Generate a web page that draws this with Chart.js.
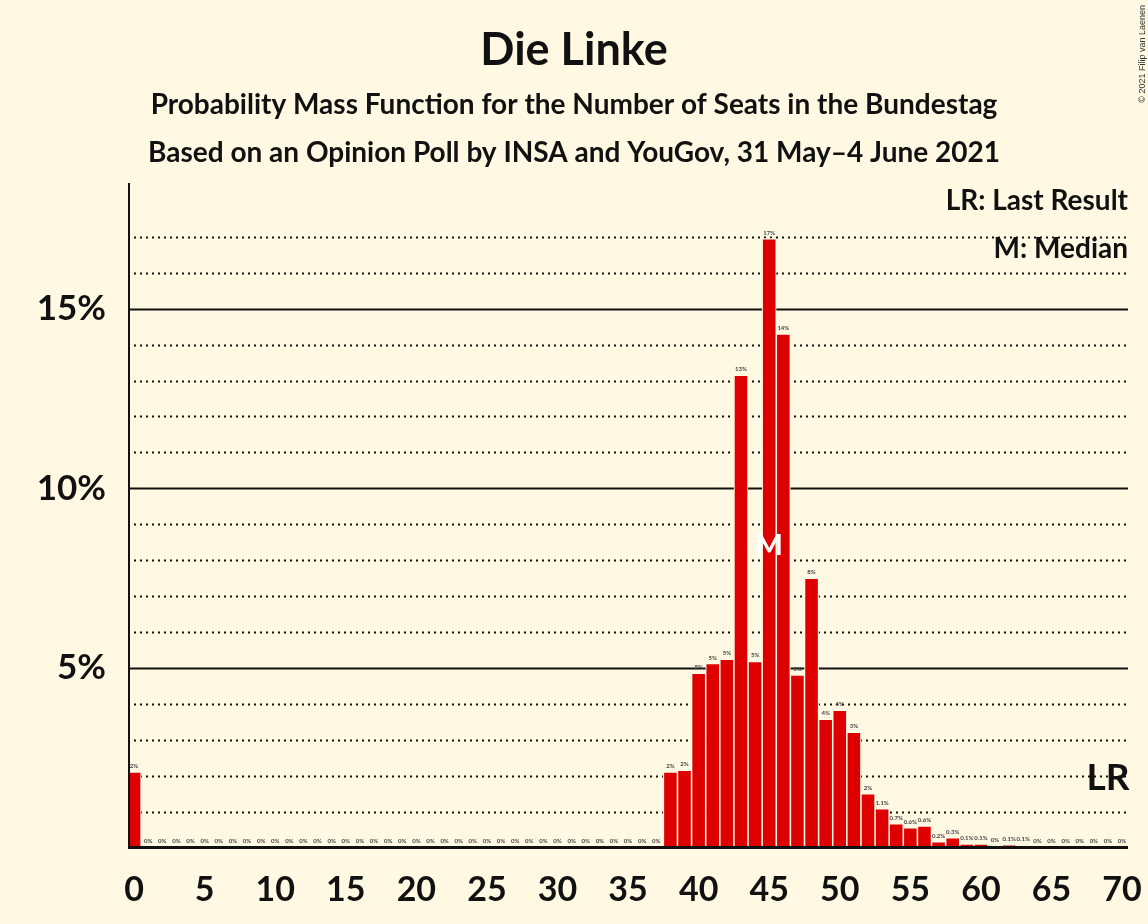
<!DOCTYPE html>
<html>
<head>
<meta charset="utf-8">
<script src="https://cdn.jsdelivr.net/npm/chart.js@4.4.1/dist/chart.umd.min.js"></script>
<style>
  html, body { margin: 0; padding: 0; background: #FFF9E3; }
  #wrap { width: 1148px; height: 924px; }
</style>
</head>
<body>
<div id="wrap"><canvas id="c" width="1148" height="924"></canvas></div>
<script>
const seats = [];
for (let s = 0; s <= 70; s++) seats.push(s);
const probabilities = [
  2.1, 0, 0, 0, 0, 0, 0, 0, 0, 0,
  0, 0, 0, 0, 0, 0, 0, 0, 0, 0,
  0, 0, 0, 0, 0, 0, 0, 0, 0, 0,
  0, 0, 0, 0, 0, 0, 0, 0, 2.1, 2.15,
  4.85, 5.12, 5.24, 13.15, 5.18, 16.95, 14.3, 4.8, 7.5, 3.57,
  3.82, 3.21, 1.5, 1.08, 0.66, 0.55, 0.6, 0.16, 0.27, 0.1,
  0.1, 0.03, 0.08, 0.06, 0.02, 0.01, 0, 0, 0, 0,
  0
];
const yTicks = [5, 10, 15];
const xTicks = [0, 5, 10, 15, 20, 25, 30, 35, 40, 45, 50, 55, 60, 65, 70];
const gridLevels = [1,2,3,4,5,6,7,8,9,10,11,12,13,14,15,16,17];
const medianSeat = 45;
const lastResultSeat = 69;
const lastResultLevel = 2;
const titleText = 'Die Linke';
const subtitleLines = [
  'Probability Mass Function for the Number of Seats in the Bundestag',
  'Based on an Opinion Poll by INSA and YouGov, 31 May\u20134 June 2021'
];
const legendLines = ['LR: Last Result', 'M: Median'];
const copyright = '\u00A9 2021 Filip van Laenen';

const BG = '#FFF9E3';
const BAR = '#DE0000';

function fmt(v) {
  if (v < 0.05) return '0%';
  if (v < 1.5) return v.toFixed(1) + '%';
  return Math.round(v) + '%';
}

const decor = {
  id: 'decor',
  beforeDatasetsDraw(chart) {
    const ctx = chart.ctx, a = chart.chartArea, y = chart.scales.y;
    ctx.save();
    gridLevels.forEach(l => {
      const py = Math.round(y.getPixelForValue(l)) + 0.5;
      ctx.beginPath();
      ctx.strokeStyle = '#111';
      if (l % 5 === 0) { ctx.setLineDash([]); ctx.lineWidth = 2; }
      else { ctx.setLineDash([2, 4]); ctx.lineWidth = 2; }
      ctx.moveTo(a.left, py);
      ctx.lineTo(a.right, py);
      ctx.stroke();
    });
    ctx.restore();
  },
  afterDatasetsDraw(chart) {
    const ctx = chart.ctx, a = chart.chartArea, x = chart.scales.x, y = chart.scales.y;
    const meta = chart.getDatasetMeta(0);
    ctx.save();
    // value labels
    ctx.fillStyle = '#444';
    ctx.font = 'bold 6px Lato';
    ctx.textAlign = 'center';
    ctx.textBaseline = 'middle';
    meta.data.forEach((el, i) => {
      ctx.fillText(fmt(probabilities[i]), el.x, el.y - 6);
    });
    // axes
    ctx.setLineDash([]);
    ctx.strokeStyle = '#111';
    ctx.lineWidth = 2;
    ctx.beginPath();
    ctx.moveTo(a.left + 1, a.top);
    ctx.lineTo(a.left + 1, a.bottom);
    ctx.stroke();
    ctx.lineWidth = 3;
    ctx.beginPath();
    ctx.moveTo(a.left, a.bottom);
    ctx.lineTo(a.right, a.bottom);
    ctx.stroke();
    // median marker
    ctx.fillStyle = '#FFFFFF';
    ctx.font = 'bold 29px Lato';
    ctx.textBaseline = 'middle';
    ctx.fillText('M', x.getPixelForValue(medianSeat), y.getPixelForValue(probabilities[medianSeat] / 2) + 3);
    // last result marker
    ctx.fillStyle = '#111';
    ctx.font = 'bold 37px Lato';
    ctx.fillText('LR', x.getPixelForValue(lastResultSeat), y.getPixelForValue(lastResultLevel) + 2);
    // legend
    ctx.textAlign = 'right';
    ctx.textBaseline = 'alphabetic';
    ctx.font = 'bold 28px Lato';
    ctx.fillText(legendLines[0], a.right, 210);
    ctx.fillText(legendLines[1], a.right, 258);
    // titles
    ctx.textAlign = 'center';
    ctx.font = 'bold 45px Lato';
    ctx.fillText(titleText, 574, 65);
    ctx.font = 'bold 28px Lato';
    ctx.fillText(subtitleLines[0], 574, 114);
    ctx.fillText(subtitleLines[1], 574, 162);
    // copyright
    ctx.save();
    ctx.translate(1145, 5);
    ctx.rotate(-Math.PI / 2);
    ctx.textAlign = 'right';
    ctx.textBaseline = 'alphabetic';
    ctx.font = '9px "Liberation Sans"';
    ctx.fillStyle = '#333';
    ctx.fillText(copyright, 0, 0);
    ctx.restore();
    ctx.restore();
  }
};

const bgPlugin = {
  id: 'bg',
  beforeDraw(chart) {
    const ctx = chart.ctx;
    ctx.save();
    ctx.fillStyle = BG;
    ctx.fillRect(0, 0, chart.width, chart.height);
    ctx.restore();
  }
};

new Chart(document.getElementById('c'), {
  type: 'bar',
  data: {
    datasets: [{
      data: seats.map((s, i) => ({ x: s, y: probabilities[i] })),
      backgroundColor: BAR,
      borderColor: BG,
      borderWidth: 1.1,
      borderSkipped: 'start',
      barPercentage: 1.0,
      categoryPercentage: 1.0
    }]
  },
  options: {
    responsive: false,
    animation: false,
    devicePixelRatio: 1,
    layout: { padding: { top: 183, left: 0, right: 20, bottom: 0 } },
    plugins: { legend: { display: false }, tooltip: { enabled: false }, title: { display: false } },
    scales: {
      x: {
        type: 'linear',
        min: -0.43,
        max: 70.42,
        offset: false,
        grid: { display: false, drawTicks: false },
        border: { display: false },
        afterBuildTicks: s => { s.ticks = xTicks.map(v => ({ value: v })); },
        afterFit: s => { s.height = 76.5; s.paddingLeft = 0; s.paddingRight = 0; },
        ticks: {
          autoSkip: false, maxRotation: 0, padding: 22,
          color: '#111',
          font: { family: 'Lato', weight: 'bold', size: 34 },
          callback: v => String(v)
        }
      },
      y: {
        min: 0,
        max: 18.5,
        grid: { display: false, drawTicks: false },
        border: { display: false },
        afterBuildTicks: s => { s.ticks = yTicks.map(v => ({ value: v })); },
        afterFit: s => { s.width = 128; s.paddingTop = 0; s.paddingBottom = 0; },
        ticks: {
          padding: 22,
          color: '#111',
          font: { family: 'Lato', weight: 'bold', size: 35 },
          callback: v => v + '%'
        }
      }
    }
  },
  plugins: [bgPlugin, decor]
});
</script>
</body>
</html>
